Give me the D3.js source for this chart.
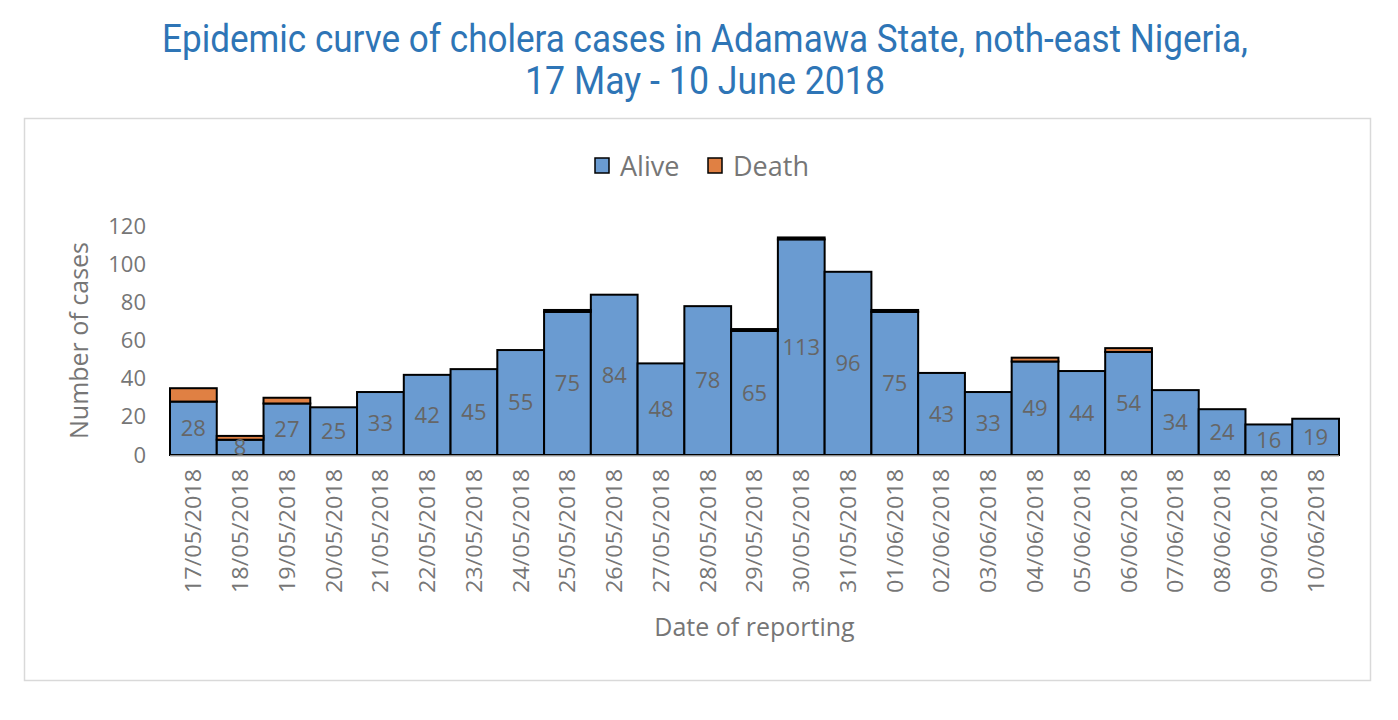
<!DOCTYPE html>
<html>
<head>
<meta charset="utf-8">
<script src="https://cdn.jsdelivr.net/npm/d3@7"></script>
<style>
  body { margin: 0; background: #fff; }
  svg { display: block; }
</style>
</head>
<body>
<svg id="chart" width="1398" height="720"></svg>
<script>
const dates = ["17/05/2018","18/05/2018","19/05/2018","20/05/2018","21/05/2018","22/05/2018","23/05/2018","24/05/2018","25/05/2018","26/05/2018","27/05/2018","28/05/2018","29/05/2018","30/05/2018","31/05/2018","01/06/2018","02/06/2018","03/06/2018","04/06/2018","05/06/2018","06/06/2018","07/06/2018","08/06/2018","09/06/2018","10/06/2018"];
const alive = [28,8,27,25,33,42,45,55,75,84,48,78,65,113,96,75,43,33,49,44,54,34,24,16,19];
const death = [7,2,3,0,0,0,0,0,1,0,0,0,1,1,0,1,0,0,2,0,2,0,0,0,0];
const yTicks = [0,20,40,60,80,100,120];
const seriesNames = ["Alive","Death"];
const colors = ["#6A9BD1","#E08043"];

const svg = d3.select("#chart");
const plot = {left: 170, right: 1339, top: 226, bottom: 455};

// outer frame
svg.append("rect").attr("x",24.5).attr("y",118.5).attr("width",1346).attr("height",562)
  .attr("fill","#fff").attr("stroke","#d9d9d9").attr("stroke-width",1.5);

// title (condensed look)
const titleFont = "'Liberation Sans Narrow','Arial Narrow','Roboto',sans-serif";
const title = svg.append("g").attr("fill","#2E75B6").style("font-family",titleFont).style("font-size","38px");
title.append("text").attr("x",705).attr("y",52).attr("text-anchor","middle")
  .attr("textLength",1086).attr("lengthAdjust","spacingAndGlyphs")
  .text("Epidemic curve of cholera cases in Adamawa State, noth-east Nigeria,");
title.append("text").attr("x",705).attr("y",94).attr("text-anchor","middle")
  .attr("textLength",360).attr("lengthAdjust","spacingAndGlyphs")
  .text("17 May - 10 June 2018");

const x = d3.scaleBand().domain(dates).range([plot.left, plot.right]).padding(0);
const y = d3.scaleLinear().domain([0,120]).range([plot.bottom, plot.top]);

const font = "'Open Sans','Noto Sans',sans-serif";
const gray = "#767676";

const data = dates.map((d,i)=>({date:d, alive:alive[i], death:death[i]}));
const stack = d3.stack().keys(["alive","death"])(data);

// bars
stack.forEach((layer, li) => {
  svg.append("g").selectAll("rect").data(layer.filter(s => s[1] > s[0])).join("rect")
    .attr("x", s => x(s.data.date))
    .attr("y", s => y(s[1]))
    .attr("width", x.bandwidth())
    .attr("height", s => y(s[0]) - y(s[1]))
    .attr("fill", colors[li])
    .attr("stroke", "#000")
    .attr("stroke-width", 2);
});

// baseline
svg.append("line").attr("x1",plot.left).attr("x2",plot.right)
  .attr("y1",plot.bottom+1).attr("y2",plot.bottom+1)
  .attr("stroke","#bfbfbf").attr("stroke-width",1.5);

// data labels
svg.append("g").selectAll("text").data(data).join("text")
  .attr("x", d => x(d.date) + x.bandwidth()/2)
  .attr("y", d => (y(0) + y(d.alive))/2)
  .attr("dy","0.36em")
  .attr("text-anchor","middle")
  .attr("fill","#666")
  .style("font-family",font).style("font-size","22px")
  .text(d => d.alive);

// y axis
const yAxis = d3.axisLeft(y).tickValues(yTicks).tickSize(0).tickPadding(0);
const yg = svg.append("g").attr("transform",`translate(146,0)`).call(yAxis);
yg.select(".domain").remove();
yg.selectAll("text").attr("fill",gray).style("font-family",font).style("font-size","22px");

// x axis
const xAxis = d3.axisBottom(x).tickSize(0).tickPadding(0);
const xg = svg.append("g").attr("transform",`translate(0,${plot.bottom})`).call(xAxis);
xg.select(".domain").remove();
xg.selectAll("text")
  .attr("fill",gray).style("font-family",font).style("font-size","22px")
  .attr("transform","rotate(-90)")
  .attr("text-anchor","end")
  .attr("x",-14).attr("y",0).attr("dy","0.36em")
  .attr("textLength",124).attr("lengthAdjust","spacingAndGlyphs");

// axis titles
svg.append("text").attr("x",(plot.left+plot.right)/2).attr("y",636).attr("text-anchor","middle")
  .attr("fill",gray).style("font-family",font).style("font-size","25px").text("Date of reporting");
svg.append("text").attr("transform",`translate(88,${(plot.top+plot.bottom)/2}) rotate(-90)`)
  .attr("text-anchor","middle").attr("fill",gray)
  .style("font-family",font).style("font-size","25px").text("Number of cases");

// legend
const legend = svg.append("g");
const legendItems = [{name:seriesNames[0], color:colors[0], x:595},{name:seriesNames[1], color:colors[1], x:708}];
legendItems.forEach(it => {
  legend.append("rect").attr("x",it.x).attr("y",158).attr("width",14).attr("height",15)
    .attr("fill",it.color).attr("stroke","#000").attr("stroke-width",1.5);
  legend.append("text").attr("x",it.x+25).attr("y",166).attr("dy","0.36em")
    .attr("fill",gray).style("font-family",font).style("font-size","27px").text(it.name);
});
</script>
</body>
</html>
